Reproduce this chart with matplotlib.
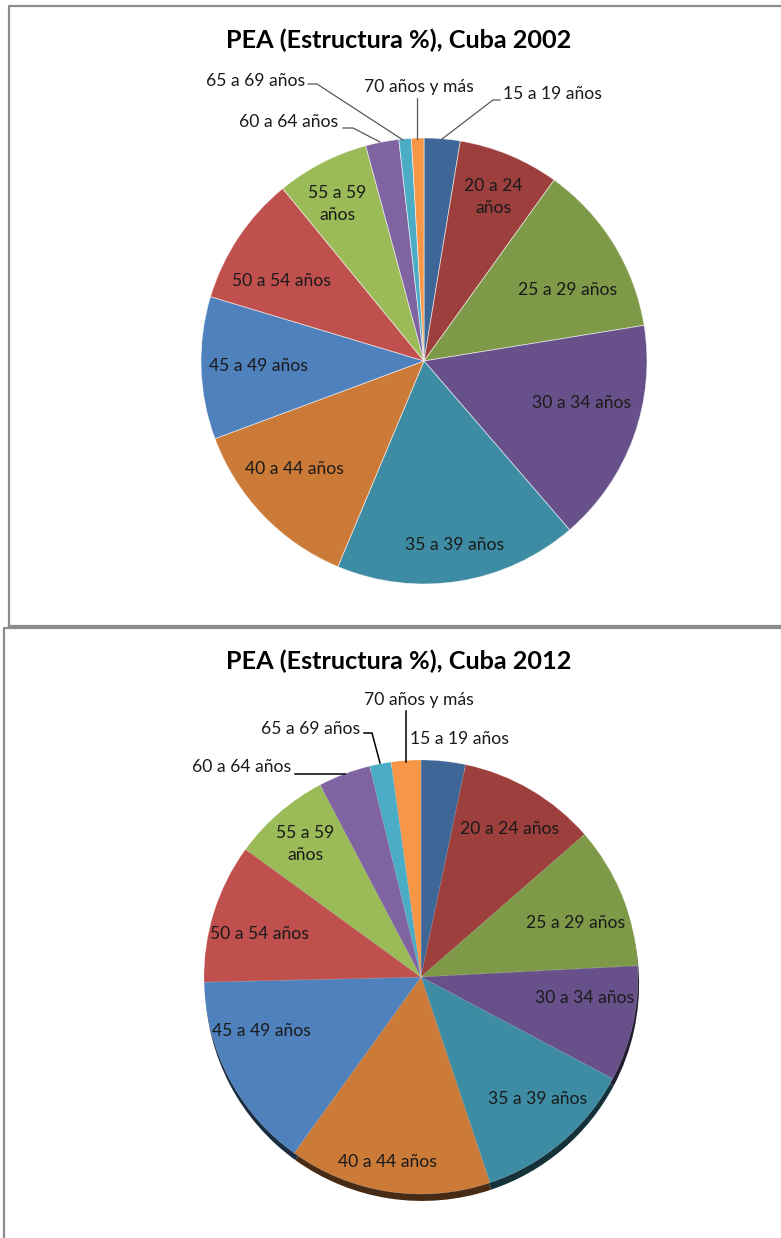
import matplotlib
matplotlib.use("Agg")
import matplotlib.pyplot as plt
import numpy as np

plt.rcParams['font.family'] = ['Lato', 'DejaVu Sans']

# ---------------- data ----------------
categories = ["15 a 19 años", "20 a 24 años", "25 a 29 años", "30 a 34 años",
              "35 a 39 años", "40 a 44 años", "45 a 49 años", "50 a 54 años",
              "55 a 59 años", "60 a 64 años", "65 a 69 años", "70 años y más"]
pea_2002 = [2.6, 7.3, 12.5, 16.2, 17.6, 13.0, 10.3, 9.4, 6.7, 2.4, 0.9, 0.9]
pea_2012 = [3.3, 10.3, 10.6, 8.6, 12.1, 15.1, 14.7, 10.4, 7.3, 3.9, 1.6, 2.2]
title_2002 = "PEA (Estructura %), Cuba 2002"
title_2012 = "PEA (Estructura %), Cuba 2012"

colors = ["#3E6696", "#9C3F3D", "#7E9A48", "#68518A", "#3D8CA3", "#CC7A38",
          "#4F81BD", "#C0504D", "#9BBB59", "#8064A2", "#4BACC6", "#F79646"]

W, H = 781, 1238
fig = plt.figure(figsize=(W / 100, H / 100), dpi=100)
fig.patch.set_facecolor("white")

def py(y):
    return H - y

# bottom pie axes (ellipse, slight 3D look)
cx2, cy2, rx2, ry2 = 421, 977, 225, 217
ax2 = fig.add_axes([(cx2 - rx2) / W, (H - cy2 - ry2) / H, 2 * rx2 / W, 2 * ry2 / H])
ax2.set_xlim(-1, 1)
ax2.set_ylim(-1, 1)
ax2.set_aspect('auto')
ax2.axis('off')
ax2.set_zorder(0)

def darker(c, f=0.35):
    r, g, b = matplotlib.colors.to_rgb(c)
    return (r * f, g * f, b * f)

shadow, _ = ax2.pie(pea_2012, colors=[darker(c) for c in colors], startangle=90,
                    counterclock=False, radius=1.0, center=(0.005, -0.032), frame=False,
                    wedgeprops=dict(linewidth=0))
for w in shadow:
    w.set_clip_on(False)
    w.set_zorder(1)
wedges2, _ = ax2.pie(pea_2012, colors=colors, startangle=90, counterclock=False,
                     radius=1.0, center=(0, 0), frame=False,
                     wedgeprops=dict(linewidth=0.3, edgecolor=(1, 1, 1, 0.4)))
for w in wedges2:
    w.set_clip_on(False)
    w.set_zorder(2)
ax2.set_xlim(-1, 1)
ax2.set_ylim(-1, 1)

# main axes in pixel coordinates
ax = fig.add_axes([0, 0, 1, 1])
ax.set_xlim(0, W)
ax.set_ylim(0, H)
ax.axis('off')
ax.patch.set_alpha(0)
ax.set_zorder(1)

# top pie
ax.pie(pea_2002, colors=colors, startangle=90, counterclock=False, radius=223,
       center=(424, py(361)), frame=True,
       wedgeprops=dict(linewidth=0.6, edgecolor=(1, 1, 1, 0.6)))
ax.set_xlim(0, W)
ax.set_ylim(0, H)
ax.set_aspect('auto')
ax.axis('off')

# borders
bc = "#8C8C8C"
ax.plot([9, 9, W + 5], [py(626), py(6), py(6)], color=bc, lw=1.6, solid_capstyle='butt')
ax.plot([9, W + 5], [py(626), py(626)], color=bc, lw=1.6)
ax.plot([4, 4, W + 5], [py(1240), py(628), py(628)], color=bc, lw=1.6)

# titles
tfs = 18.2
ax.text(399, py(40), title_2002, ha='center', va='center', fontsize=tfs, fontweight='bold', color="black")
ax.text(399, py(661), title_2012, ha='center', va='center', fontsize=tfs, fontweight='bold', color="black")

lfs = 12.6
tc = "#1A1A1A"

def lab(x, y, s, ha='center'):
    ax.text(x, py(y), s, ha=ha, va='center', fontsize=lfs, color=tc, linespacing=1.45)

# top pie inside labels
lab(493, 197, "20 a 24\naños")
lab(568, 290, categories[2])
lab(582, 403, categories[3])
lab(455, 545, categories[4])
lab(294, 469, categories[5])
lab(258, 366, categories[6])
lab(281, 281, categories[7])
lab(337, 204, "55 a 59\naños")

# top pie outside labels + leaders
lc1 = "#595959"
lab(503, 94, categories[0], ha='left')
ax.plot([442, 493, 500], [py(139), py(100), py(100)], color=lc1, lw=0.9)
lab(419, 87, categories[11])
ax.plot([417, 417], [py(139), py(98)], color=lc1, lw=0.9)
lab(256, 81, categories[10])
ax.plot([308, 317, 403], [py(84), py(84), py(140)], color=lc1, lw=0.9)
lab(289, 122, categories[9])
ax.plot([343, 353, 380], [py(128), py(128), py(142)], color=lc1, lw=0.9)

# bottom pie inside labels
lab(510, 829, categories[1])
lab(576, 923, categories[2])
lab(585, 998, categories[3])
lab(538, 1099, categories[4])
lab(387, 1162, categories[5])
lab(261, 1031, categories[6])
lab(259, 934, categories[7])
lab(305, 844, "55 a 59\naños")

# bottom pie outside labels + leaders
lc2 = "#000000"
lab(419, 700, categories[11])
ax.plot([405.5, 405.5], [py(711), py(762)], color=lc2, lw=1.1)
lab(410, 739, categories[0], ha='left')
lab(311, 729, categories[10])
ax.plot([364, 372, 380], [py(733), py(733), py(763)], color=lc2, lw=1.1)
lab(242, 767, categories[9])
ax.plot([295, 345], [py(774), py(774)], color=lc2, lw=1.1)

fig.savefig("out.png", dpi=100, facecolor="white")
